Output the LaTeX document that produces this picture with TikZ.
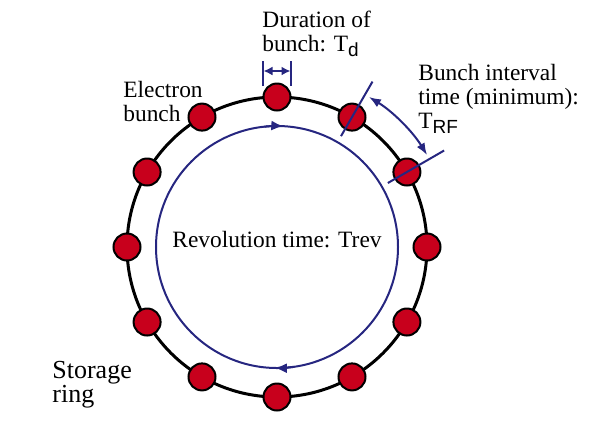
\documentclass[tikz,border=0pt]{standalone}
\usepackage{fontspec}
\setmainfont{Liberation Serif}
\setsansfont{Liberation Sans}
\usetikzlibrary{arrows.meta,positioning,calc}
\definecolor{bunchred}{RGB}{200,0,28}
\definecolor{ringblue}{RGB}{38,38,128}
\tikzset{
  bunch/.style={circle, draw=black, line width=1pt, fill=bunchred,
    minimum size=27\pxu, inner sep=0pt},
  ringline/.style={draw=black, line width=1.5pt},
  orbit/.style={draw=ringblue, line width=1pt},
  marker/.style={draw=ringblue, line width=1pt},
  lbl/.style={align=left, inner sep=0pt, font=\fontsize{11.7}{12}\selectfont},
}
\newlength{\pxu}
\setlength{\pxu}{0.5pt}
\begin{document}
\begin{tikzpicture}[x=0.5pt, y=0.5pt]
\useasboundingbox (-277,-189) rectangle (322,247);
%% Storage ring and orbit
\draw[ringline] (0,0) circle (150);
\draw[orbit] (0,0) circle (121);
\draw[orbit, -{Latex[length=6pt, width=5pt]}] (96:121) arc (96:87:121);
\draw[orbit, -{Latex[length=6pt, width=5pt]}] (-82:121) arc (-82:-91:121);

%% Electron bunches
\foreach \k in {0,...,11}
  \node[bunch] (b\k) at ({90-30*\k}:150) {};

%% Duration of bunch
\coordinate (dL) at ($(b0.center)+(-14,11)$);
\coordinate (dR) at ($(b0.center)+(14,11)$);
\draw[marker] (dL) -- ++(0,25);
\draw[marker] (dR) -- ++(0,25);
\draw[marker, {Latex[length=4.5pt, width=4.5pt]}-{Latex[length=4.5pt, width=4.5pt]}]
  ($(dL)+(0.5,15)$) -- ($(dR)+(-0.5,15)$);
\node[lbl, anchor=north west] (dur) at (-15,236)
  {Duration of\\bunch: T\textsf{\fontsize{9.5}{9}\selectfont\raisebox{-2.5pt}{d}}};

%% Bunch interval
\coordinate (i1a) at (60:128);
\coordinate (i1b) at (60:191);
\coordinate (i2a) at (30:128);
\coordinate (i2b) at (30:193);
\draw[marker] (i1a) -- (i1b);
\draw[marker] (i2a) -- (i2b);
\draw[marker, {Latex[length=6pt, width=4.5pt]}-{Latex[length=6pt, width=4.5pt]}]
  (58.5:176) arc (58.5:31.5:176);
\node[lbl, anchor=north west] (intv) at (141,183)
  {Bunch interval\\time (minimum):\\T\textsf{\fontsize{9.5}{9}\selectfont\raisebox{-2.5pt}{RF}}};

%% Other labels
\node[lbl, anchor=north west] (elec) at (-154,166) {Electron\\bunch};
\node[lbl, anchor=base] (rev) at (0,0) {Revolution time: Trev};
\node[lbl, anchor=north west, font=\fontsize{13}{12}\selectfont] (stor) at (-225,-114)
  {Storage\\ring};
\end{tikzpicture}
\end{document}
